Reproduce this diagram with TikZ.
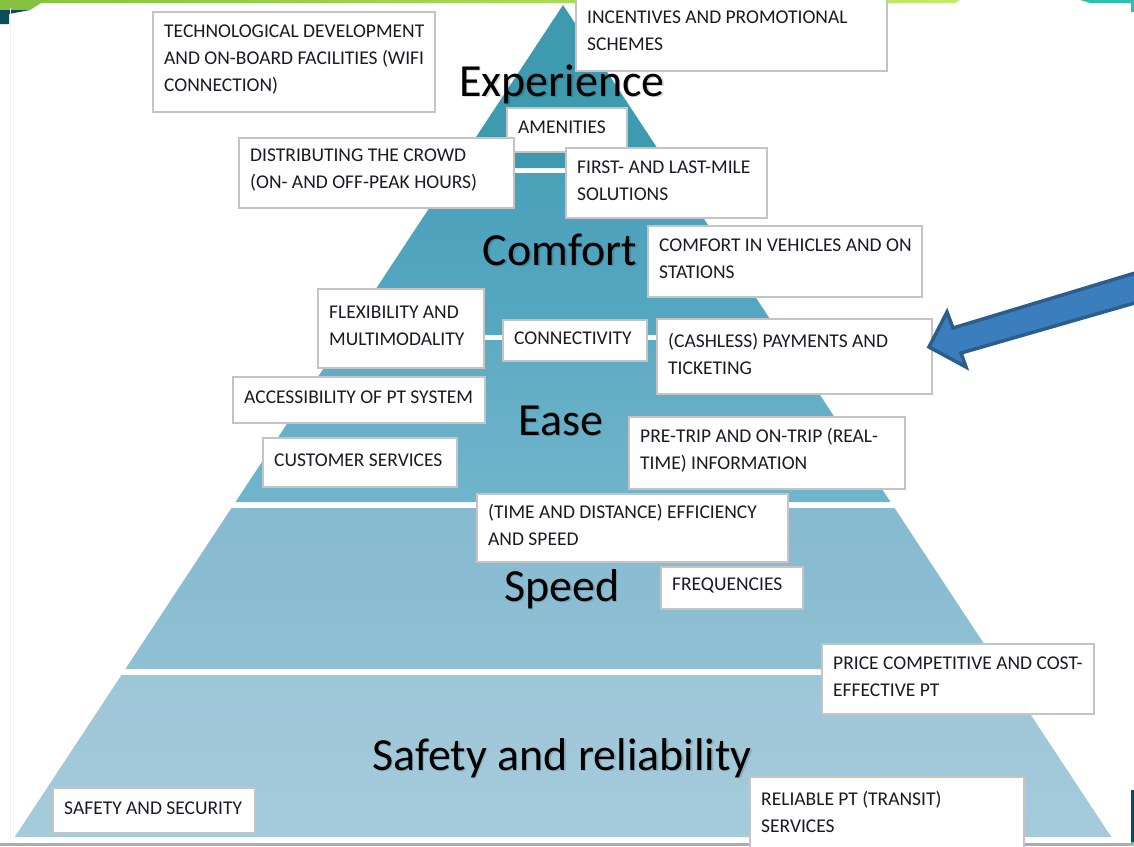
\documentclass[tikz,border=0pt]{standalone}
\usepackage{fontspec}
\setmainfont{Carlito}
\definecolor{cexp}{HTML}{3D9AAF}
\definecolor{ccomA}{HTML}{4BA0BA}
\definecolor{ccomB}{HTML}{56A8C1}
\definecolor{ceaseA}{HTML}{5EABC4}
\definecolor{ceaseB}{HTML}{70B5CB}
\definecolor{cspdA}{HTML}{86BAD0}
\definecolor{cspdB}{HTML}{8FC0D3}
\definecolor{csafA}{HTML}{9DC6D8}
\definecolor{csafB}{HTML}{A5CBDB}
\definecolor{boxgray}{HTML}{C4C4C4}
\definecolor{txtc}{HTML}{1A1A26}
\definecolor{greenA}{HTML}{86C240}
\definecolor{greenB}{HTML}{C2EA68}
\definecolor{tealdark}{HTML}{0C4D5A}
\definecolor{tealbright}{HTML}{2EBFAE}
\definecolor{arrowfill}{HTML}{3B7EBE}
\definecolor{arrowline}{HTML}{2B5E8B}
\tikzset{
  boxs/.style={draw=boxgray, line width=1.5pt, fill=white, rectangle, inner sep=0pt, anchor=north west},
  boxtxt/.style={anchor=west, align=left, inner sep=0pt, font=\fontsize{19.5}{27}\selectfont, text=txtc},
  big/.style={anchor=base, inner sep=0pt, font=\fontsize{46}{50}\selectfont, text=black},
  bigshadow/.style={big, text=black, opacity=0.14},
}
\newcommand{\mybox}[6]{%
  \node[boxs, minimum width=#4pt-#2pt, minimum height=#5pt-#3pt] (#1) at (#2,#3) {};
  \node[boxtxt] (#1t) at ([xshift=12pt,yshift=2.5pt]#1.west) {#6};}
\newcommand{\biglab}[4]{%
  \node[bigshadow] (#1s) at (#2+1.5,#3+1.5) {#4};
  \node[big] (#1) at (#2,#3) {#4};}
\begin{document}
\begin{tikzpicture}[x=1pt,y=-1pt]
\useasboundingbox (0,0) rectangle (1134,846);
\clip (0,0) rectangle (1134,846);
\fill[white] (0,0) rectangle (1134,846);
% slide decorations
\shade[left color=greenA, right color=greenB] (0,0) -- (960,0) -- (955,3) -- (0,3) -- cycle;
\fill[greenA] (0,0) -- (46,0) -- (30,10) -- (0,10) -- cycle;
\fill[tealdark] (0,10) -- (30,10) -- (9,14) -- (9,24) -- (0,24) -- cycle;
\fill[tealbright] (1080,0) -- (1134,0) -- (1134,12) -- (1131,12) -- (1131,3) -- (1090,3) -- cycle;
\fill[tealdark] (1131,790) rectangle (1134,846);
\fill[tealbright] (1131,842) rectangle (1134,846);
\draw[gray!12, line width=1pt] (10,8) -- (10,842);
% pyramid bands
\fill[cexp] (563,5) -- (670.4,168) -- (455.6,168) -- cycle;
\shade[top color=ccomA, bottom color=ccomB] (452.3,173) -- (673.7,173) -- (780.5,335) -- (345.5,335) -- cycle;
\shade[top color=ceaseA, bottom color=ceaseB] (342.2,340) -- (783.8,340) -- (890.5,502) -- (235.5,502) -- cycle;
\shade[top color=cspdA, bottom color=cspdB] (231.5,508) -- (894.5,508) -- (1000.6,669) -- (125.4,669) -- cycle;
\shade[top color=csafA, bottom color=csafB] (121.5,675) -- (1004.5,675) -- (1111.3,837) -- (14.7,837) -- cycle;
% bottom rule
\fill[gray!65] (0,842.5) rectangle (1134,846);
% boxes
\mybox{tech}{152}{11}{434}{111}{TECHNOLOGICAL DEVELOPMENT\\AND ON-BOARD FACILITIES (WIFI\\CONNECTION)}
\mybox{incent}{575}{-5}{886}{70}{INCENTIVES AND PROMOTIONAL\\SCHEMES}
\mybox{amen}{506}{107}{626}{151}{AMENITIES}
\mybox{crowd}{238}{137}{513}{207}{DISTRIBUTING THE CROWD\\(ON- AND OFF-PEAK HOURS)}
\mybox{first}{565}{147}{766}{217}{FIRST- AND LAST-MILE\\SOLUTIONS}
\mybox{comfv}{647}{225}{921}{296}{COMFORT IN VEHICLES AND ON\\STATIONS}
\mybox{flex}{317}{288}{483}{367}{FLEXIBILITY AND\\MULTIMODALITY}
\mybox{conn}{502}{319}{646}{360}{CONNECTIVITY}
\mybox{pay}{656}{318}{931}{393}{(CASHLESS) PAYMENTS AND\\TICKETING}
\mybox{access}{232}{376}{484}{422}{ACCESSIBILITY OF PT SYSTEM}
\mybox{cust}{262}{437}{456}{486}{CUSTOMER SERVICES}
\mybox{info}{628}{416}{904}{488}{PRE-TRIP AND ON-TRIP (REAL-\\TIME) INFORMATION}
\mybox{effic}{476}{493}{787}{561}{(TIME AND DISTANCE) EFFICIENCY\\AND SPEED}
\mybox{freq}{660}{566}{802}{608}{FREQUENCIES}
\mybox{price}{821}{643}{1093}{713}{PRICE COMPETITIVE AND COST-\\EFFECTIVE PT}
\mybox{safesec}{52}{787}{254}{832}{SAFETY AND SECURITY}
\mybox{reli}{749}{776}{1023}{852}{RELIABLE PT (TRANSIT)\\SERVICES}
% level labels
\biglab{lexp}{562}{96}{Experience}
\biglab{lcom}{560}{265}{Comfort}
\biglab{lease}{561}{435}{Ease}
\biglab{lspd}{562}{601}{Speed}
\biglab{lsaf}{562}{770}{Safety and reliability}
% block arrow
\coordinate (tip) at (929,347);
\filldraw[fill=arrowfill, draw=arrowline, line width=3.5pt, line join=miter]
  (tip) -- (947,312) -- (953,328) -- (1145,270) -- (1145,300) -- (961,353) -- (966,367) -- cycle;
\end{tikzpicture}
\end{document}
